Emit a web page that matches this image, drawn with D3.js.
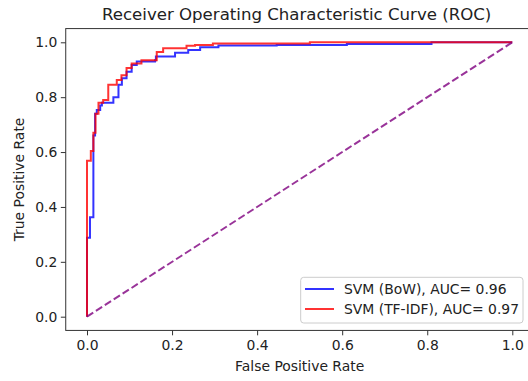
<!DOCTYPE html>
<html><head><meta charset="utf-8">
<script src="https://cdn.jsdelivr.net/npm/d3@7"></script>
<style>body{margin:0;background:#fff}svg{display:block}text{font-family:"DejaVu Sans",sans-serif;fill:#222}</style>
</head><body>
<svg id="c" width="528" height="381"></svg>
<script>
const title = "Receiver Operating Characteristic Curve (ROC)";
const xLabel = "False Positive Rate";
const yLabel = "True Positive Rate";
const ticks = [0, 0.2, 0.4, 0.6, 0.8, 1.0];
const seriesNames = ["SVM (BoW), AUC= 0.96", "SVM (TF-IDF), AUC= 0.97"];
const seriesColors = ["#0000ff", "#ff0000"];

const bowFpr = [0,0,0.007,0.007,0.015,0.015,0.019,0.019,0.023,0.023,0.031,0.031,0.035,0.035,0.062,0.062,0.074,0.074,0.082,0.082,0.093,0.093,0.105,0.105,0.117,0.117,0.16,0.16,0.162,0.162,0.207,0.207,0.238,0.238,0.266,0.266,0.309,0.309,0.446,0.446,0.611,0.611,0.81,0.81,1];
const bowTpr = [0,0.288,0.288,0.362,0.362,0.66,0.66,0.74,0.74,0.753,0.753,0.77,0.77,0.78,0.78,0.8,0.8,0.845,0.845,0.869,0.869,0.893,0.893,0.917,0.917,0.93,0.93,0.935,0.935,0.948,0.948,0.962,0.962,0.972,0.972,0.982,0.982,0.988,0.988,0.99,0.99,0.994,0.994,1,1];

const tfFpr = [0,0,0.009,0.009,0.015,0.015,0.02,0.02,0.027,0.027,0.038,0.038,0.05,0.05,0.07,0.07,0.081,0.081,0.093,0.093,0.105,0.105,0.128,0.128,0.164,0.164,0.179,0.179,0.234,0.234,0.254,0.254,0.296,0.296,0.524,0.524,1];
const tfTpr = [0,0.568,0.568,0.604,0.604,0.67,0.67,0.74,0.74,0.78,0.78,0.79,0.79,0.845,0.845,0.863,0.863,0.88,0.88,0.906,0.906,0.923,0.923,0.935,0.935,0.965,0.965,0.978,0.978,0.987,0.987,0.99,0.99,0.996,0.996,1,1];

const diagX = [0, 1];
const diagY = [0, 1];

const svg = d3.select("#c");
const x = d3.scaleLinear().domain([0, 1]).range([87, 512.3]);
const y = d3.scaleLinear().domain([0, 1]).range([316.7, 42.3]);
const x0 = x(-0.05), x1 = x(1.05), y0 = y(-0.05), y1 = y(1.05);

const line = d3.line().x(d => x(d[0])).y(d => y(d[1]));
const zip = (a, b) => a.map((v, i) => [v, b[i]]);

const g = svg.append("g");
g.append("path").datum(zip(bowFpr, bowTpr)).attr("d", line)
  .attr("fill", "none").attr("stroke", seriesColors[0]).attr("stroke-opacity", 0.8).attr("stroke-width", 2);
g.append("path").datum(zip(tfFpr, tfTpr)).attr("d", line)
  .attr("fill", "none").attr("stroke", seriesColors[1]).attr("stroke-opacity", 0.8).attr("stroke-width", 2);
g.append("path").datum(zip(diagX, diagY)).attr("d", line)
  .attr("fill", "none").attr("stroke", "#800080").attr("stroke-opacity", 0.8).attr("stroke-width", 2)
  .attr("stroke-dasharray", "7.4,3.2");

// axes
const xAxis = d3.axisBottom(x).tickValues(ticks).tickFormat(d3.format(".1f")).tickSize(4.9).tickPadding(4.5);
const yAxis = d3.axisLeft(y).tickValues(ticks).tickFormat(d3.format(".1f")).tickSize(4.9).tickPadding(3.5);
const gx = svg.append("g").attr("transform", `translate(0,${y0})`).call(xAxis);
const gy = svg.append("g").attr("transform", `translate(${x0},0)`).call(yAxis);
[gx, gy].forEach(a => {
  a.select(".domain").remove();
  a.selectAll(".tick line").attr("stroke", "#333").attr("stroke-width", 1);
  a.selectAll(".tick text").attr("font-size", "13.9px").attr("font-family", "DejaVu Sans").attr("fill", "#222");
});

// spines
svg.append("rect").attr("x", x0).attr("y", y1).attr("width", x1 - x0).attr("height", y0 - y1)
  .attr("fill", "none").attr("stroke", "#333").attr("stroke-width", 1);

svg.append("text").attr("x", (x0 + x1) / 2 - 3).attr("y", 20).attr("text-anchor", "middle")
  .attr("font-size", "16.6px").text(title);
svg.append("text").attr("x", (x0 + x1) / 2).attr("y", 371).attr("text-anchor", "middle")
  .attr("font-size", "13.9px").text(xLabel);
svg.append("text").attr("transform", `translate(24,${(y0 + y1) / 2}) rotate(-90)`).attr("text-anchor", "middle")
  .attr("font-size", "13.9px").text(yLabel);

// legend
const lg = svg.append("g");
lg.append("rect").attr("x", 300.7).attr("y", 277.3).attr("width", 222.3).attr("height", 45.7)
  .attr("rx", 3).attr("fill", "#fff").attr("fill-opacity", 0.8).attr("stroke", "#ccc").attr("stroke-width", 1);
seriesNames.forEach((n, i) => {
  const yy = 289 + i * 20;
  lg.append("line").attr("x1", 305).attr("x2", 334).attr("y1", yy).attr("y2", yy)
    .attr("stroke", seriesColors[i]).attr("stroke-opacity", 0.8).attr("stroke-width", 2);
  lg.append("text").attr("x", 344).attr("y", yy + 5).attr("font-size", "13.9px").text(n);
});
</script>
</body></html>
